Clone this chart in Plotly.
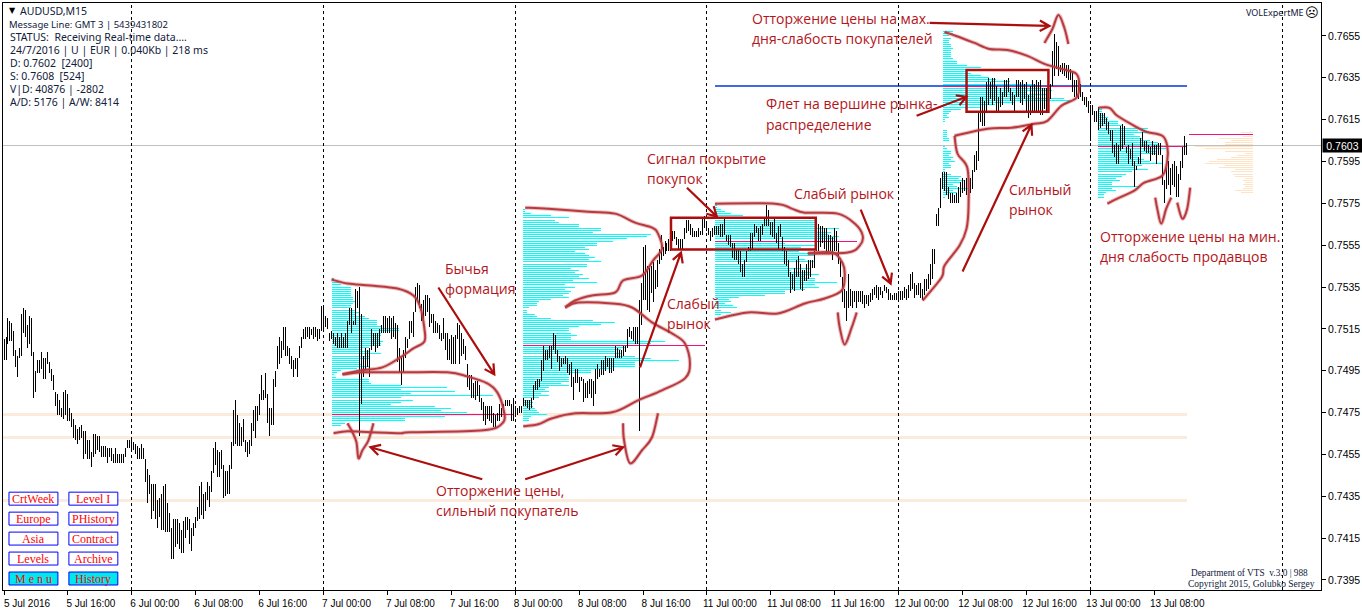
import plotly.graph_objects as go

# ---------------- data: (high, low) of each M15 bar, in 1/10000 of a price point ----------------
jul05_hl = [(7510,7500),(7511,7500),(7520,7508),(7519,7509),(7518,7509),(7514,7502),(7505,7497),(7502,7492),(7506,7501),(7522,7502),
(7525,7513),(7524,7511),(7517,7506),(7521,7508),(7520,7502),(7504,7482),(7495,7485),(7500,7494),(7500,7494),(7504,7496),
(7501,7491),(7501,7491),(7504,7498),(7499,7494),(7496,7490),(7493,7486),(7485,7478),(7484,7474),(7481,7474),(7477,7473),
(7485,7472),(7486,7474),(7484,7471),(7477,7471),(7475,7468),(7472,7463),(7469,7462),(7467,7460),(7468,7462),(7469,7463),
(7466,7453),(7466,7455),(7462,7453),(7462,7453),(7456,7449),(7465,7454),(7465,7455),(7464,7457),(7464,7456),(7459,7454),
(7459,7454),(7459,7454),(7458,7451),(7458,7454),(7458,7452),(7455,7451),(7458,7451),(7455,7451),(7455,7451),(7455,7451),
(7455,7451),(7458,7454),(7462,7458),(7462,7458)]
jul06_hl = [(7462,7457),(7461,7457),(7460,7455),(7459,7453),(7458,7453),(7460,7453),(7458,7453),(7453,7442),(7448,7432),(7445,7436),
(7441,7424),(7441,7428),(7441,7424),(7433,7420),(7434,7425),(7436,7419),(7440,7419),(7441,7418),(7432,7418),(7427,7418),
(7420,7405),(7424,7405),(7424,7411),(7424,7412),(7422,7410),(7419,7408),(7423,7408),(7425,7415),(7425,7419),(7424,7412),
(7420,7409),(7422,7416),(7425,7420),(7430,7423),(7440,7424),(7442,7426),(7436,7424),(7437,7428),(7442,7433),(7440,7430),
(7447,7437),(7458,7446),(7461,7450),(7457,7444),(7456,7444),(7457,7448),(7450,7434),(7447,7435),(7447,7436),(7450,7436),
(7461,7448),(7476,7459),(7481,7460),(7474,7459),(7470,7459),(7468,7459),(7472,7461),(7462,7456),(7461,7454),(7462,7455),
(7470,7459),(7476,7466),(7478,7463),(7478,7471),(7484,7474),(7493,7481),(7486,7481),(7494,7482),(7484,7470),(7477,7464),
(7477,7469),(7491,7469),(7495,7487),(7507,7496),(7511,7498),(7509,7501),(7516,7505),(7516,7502),(7507,7502),(7506,7498),
(7502,7496),(7500,7492),(7501,7496),(7501,7492),(7507,7501),(7511,7506),(7515,7510),(7516,7510),(7516,7511),(7516,7510),
(7515,7512),(7516,7510),(7516,7511),(7515,7509),(7515,7510),(7526,7514)]
jul07_hl = [(7525,7514),(7521,7516),(7520,7515),(7513,7509),(7514,7510),(7513,7508),(7511,7507),(7513,7506),(7511,7506),(7513,7506),
(7511,7506),(7513,7506),(7519,7506),(7525,7517),(7525,7513),(7519,7517),(7534,7517),(7533,7525),(7535,7464),(7522,7479),
(7502,7492),(7506,7496),(7505,7497),(7506,7492),(7515,7505),(7513,7507),(7513,7504),(7513,7506),(7515,7507),(7517,7513),
(7521,7513),(7521,7513),(7520,7513),(7521,7513),(7520,7510),(7521,7511),(7518,7510),(7517,7499),(7506,7494),(7502,7488),
(7505,7494),(7511,7501),(7510,7506),(7519,7510),(7519,7513),(7523,7511),(7535,7523),(7537,7528),(7536,7525),(7527,7519),
(7529,7517),(7531,7521),(7531,7523),(7530,7516),(7522,7518),(7522,7513),(7519,7513),(7518,7513),(7517,7510),(7513,7509),
(7520,7510),(7513,7505),(7513,7500),(7510,7500),(7512,7498),(7511,7498),(7512,7498),(7518,7510),(7517,7498),(7513,7502),
(7510,7503),(7507,7500),(7498,7487),(7493,7486),(7493,7482),(7489,7482),(7490,7481),(7490,7483),(7488,7480),(7482,7476),
(7480,7471),(7478,7469),(7478,7472),(7478,7471),(7478,7470),(7475,7468),(7474,7468),(7475,7471),(7479,7471),(7477,7473),
(7479,7475),(7481,7478),(7481,7478),(7481,7478),(7479,7471),(7482,7471)]
jul08_hl = [(7478,7473),(7477,7474),(7478,7475),(7478,7475),(7482,7478),(7481,7478),(7481,7477),(7481,7476),(7482,7477),(7488,7481),
(7490,7486),(7491,7486),(7491,7487),(7500,7490),(7507,7495),(7505,7500),(7505,7500),(7507,7501),(7507,7496),(7513,7505),
(7512,7503),(7505,7499),(7502,7495),(7501,7497),(7501,7498),(7502,7498),(7501,7494),(7498,7493),(7499,7487),(7492,7481),
(7496,7489),(7496,7489),(7492,7485),(7492,7490),(7491,7480),(7489,7482),(7490,7482),(7491,7484),(7491,7482),(7490,7478),
(7496,7484),(7498,7491),(7496,7492),(7500,7493),(7500,7493),(7502,7495),(7501,7497),(7501,7494),(7501,7494),(7501,7495),
(7507,7501),(7506,7501),(7505,7501),(7505,7501),(7507,7502),(7507,7504),(7515,7506),(7516,7511),(7514,7510),(7516,7509),
(7516,7508),(7516,7508),(7529,7466),(7537,7517),(7554,7529),(7555,7529),(7545,7524),(7544,7523),(7545,7532),(7547,7528),
(7543,7534),(7548,7535),(7553,7546),(7560,7548),(7554,7550),(7557,7551),(7556,7552),(7558,7552),(7558,7552),(7562,7557),
(7562,7558),(7559,7555),(7558,7553),(7558,7553),(7558,7553),(7563,7558),(7567,7561),(7567,7562),(7565,7560),(7563,7559),
(7562,7559),(7562,7559),(7563,7559),(7562,7560),(7568,7560),(7569,7563)]
jul11_hl = [(7566,7562),(7563,7560),(7562,7557),(7563,7559),(7564,7560),(7564,7560),(7564,7560),(7565,7559),(7565,7559),(7568,7560),
(7560,7557),(7560,7555),(7560,7554),(7556,7549),(7556,7548),(7553,7548),(7553,7546),(7552,7542),(7546,7540),(7548,7540),
(7552,7547),(7554,7552),(7561,7552),(7561,7553),(7565,7559),(7564,7561),(7563,7557),(7564,7557),(7565,7560),(7568,7564),
(7574,7564),(7572,7564),(7566,7560),(7566,7559),(7568,7558),(7561,7556),(7564,7553),(7565,7559),(7559,7552),(7554,7546),
(7552,7545),(7548,7540),(7542,7532),(7541,7534),(7544,7533),(7548,7540),(7550,7540),(7546,7534),(7543,7533),(7543,7538),
(7546,7538),(7548,7539),(7548,7540),(7548,7544),(7552,7544),(7564,7552),(7565,7552),(7564,7554),(7564,7556),(7563,7553),
(7563,7552),(7560,7552),(7560,7552),(7559,7548),(7563,7552),(7562,7552),(7556,7546),(7549,7540),(7540,7528),(7534,7525),
(7533,7519),(7541,7525),(7534,7526),(7533,7525),(7533,7528),(7533,7525),(7533,7528),(7533,7528),(7533,7527),(7531,7525),
(7531,7527),(7531,7526),(7532,7528),(7534,7529),(7535,7531),(7536,7530),(7535,7529),(7535,7531),(7533,7530),(7536,7533),
(7535,7532),(7534,7529),(7532,7529),(7531,7529),(7532,7529),(7532,7529)]
jul12_hl = [(7533,7529),(7533,7529),(7533,7529),(7535,7530),(7534,7529),(7536,7530),(7541,7533),(7542,7534),(7537,7530),(7536,7531),
(7537,7531),(7537,7530),(7534,7529),(7539,7531),(7539,7533),(7541,7534),(7546,7536),(7553,7539),(7553,7546),(7570,7564),
(7573,7564),(7587,7573),(7590,7582),(7590,7581),(7590,7579),(7583,7577),(7580,7575),(7580,7575),(7579,7575),(7580,7575),
(7583,7575),(7585,7578),(7587,7580),(7586,7581),(7587,7579),(7587,7579),(7587,7580),(7591,7582),(7598,7590),(7600,7591),
(7618,7595),(7626,7614),(7626,7612),(7624,7612),(7633,7618),(7635,7622),(7633,7625),(7635,7622),(7635,7624),(7631,7619),
(7626,7618),(7630,7621),(7628,7622),(7634,7626),(7634,7626),(7635,7628),(7630,7624),(7628,7622),(7627,7618),(7634,7626),
(7634,7626),(7633,7623),(7634,7622),(7632,7625),(7633,7619),(7627,7616),(7631,7617),(7634,7619),(7632,7618),(7634,7619),
(7633,7618),(7634,7617),(7630,7617),(7630,7620),(7630,7619),(7633,7619),(7632,7625),(7648,7631),(7656,7636),(7652,7639),
(7650,7636),(7641,7638),(7642,7637),(7642,7636),(7641,7635),(7641,7634),(7639,7634),(7638,7628),(7634,7626),(7634,7626),
(7634,7625),(7632,7626),(7628,7624),(7626,7622),(7626,7621),(7624,7618)]
jul13_hl = [(7622,7605),(7622,7617),(7619,7614),(7619,7614),(7621,7610),(7618,7611),(7618,7612),(7618,7613),(7616,7610),(7614,7608),
(7610,7605),(7610,7599),(7603,7597),(7604,7594),(7603,7594),(7612,7600),(7613,7601),(7612,7603),(7602,7599),(7603,7594),
(7601,7596),(7604,7593),(7595,7583),(7593,7591),(7597,7594),(7606,7594),(7609,7602),(7605,7600),(7605,7599),(7603,7599),
(7602,7595),(7605,7598),(7603,7598),(7603,7594),(7604,7598),(7604,7598),(7598,7584),(7586,7575),(7594,7582),(7595,7584),
(7592,7579),(7594,7584),(7595,7583),(7593,7578),(7589,7578),(7595,7586),(7602,7592),(7607,7598),(7604,7598)]

tick_labels = ["5 Jul 2016","5 Jul 16:00","6 Jul 00:00","6 Jul 08:00","6 Jul 16:00","7 Jul 00:00","7 Jul 08:00","7 Jul 16:00",
"8 Jul 00:00","8 Jul 08:00","8 Jul 16:00","11 Jul 00:00","11 Jul 08:00","11 Jul 16:00","12 Jul 00:00","12 Jul 08:00",
"12 Jul 16:00","13 Jul 00:00","13 Jul 08:00"]
price_ticks = [0.7395,0.7415,0.7435,0.7455,0.7475,0.7495,0.7515,0.7535,0.7555,0.7575,0.7595,0.7615,0.7635,0.7655]
day_separators = [64,160,256,352,448,544,640]
support_levels = [0.7474,0.7463,0.7433]
blue_level = 0.7631
current_price = 0.76028

# volume profiles: length (in bars) of each one-point price level, top level first
vp_jul07 = [1,1,4,5,10,10,10,10,10,11,11,12,11,10,10,12,14,12,17,19,23,23,23,25,34,34,25,25,24,24,26,25,25,19,15,19,25,19,19,14,14,15,19,13,5,3,1,2,19,19,20,35,58,35,62,40,81,35,41,35,30,52,60,55,68,85,57,37,37,7,5]
vp_jul08 = [1,1,4,14,23,16,18,28,28,39,39,35,64,62,52,45,37,37,31,33,26,31,33,36,33,39,32,32,24,28,26,30,28,33,25,37,21,26,21,24,23,20,23,14,8,7,7,3,2,2,6,7,14,35,46,39,28,23,23,24,27,24,24,71,64,49,51,49,46,49,56,64,78,56,56,56,44,34,34,23,23,23,23,19,23,13,11,13,9,13,8,4,5,4,5,6,7,8,12,4,3,3]
vp_jul11 = [1,1,3,5,8,14,23,50,50,50,50,62,50,58,57,62,60,62,35,50,43,42,42,52,50,42,45,50,37,37,48,38,48,52,45,50,50,61,50,52,45,35,35,25,12,7,8,5,9,11,3,8,3]
vp_jul12 = [5,5,3,4,3,3,4,4,5,4,4,4,4,5,7,7,12,19,12,12,14,19,23,27,34,46,61,54,55,42,52,46,61,64,36,26,19,9,4,3,2,3,1,1,0,0,0,2,2,2,2,3,3,0,0,1,2,4,4,3,5,4,6,3,4,4,1,1,4,9,8,11,9,5,7,13,5,7,3,1]
vp_jul13 = [2,2,2,3,5,5,10,10,12,25,20,25,18,21,22,26,30,30,34,34,29,29,21,20,23,26,32,22,18,25,17,14,12,9,11,7,7,21,7,9,4,3,3]
vp_right = [6,6,5,17,11,14,14,29,24,14,4,8,11,18,22,24,14,17,9,11,10,9,4,5,4,5,4,5,9,6]

# ---------------- layout constants ----------------
W, H = 1362, 612
L, R, T, B = 2, 40, 2, 22
PLOT_W, PLOT_H = W - L - R, H - T - B
PX_PER_PRICE = 20960.0
Y_TOP = 0.7655 + (35 - T) / PX_PER_PRICE
Y_BOT = Y_TOP - PLOT_H / PX_PER_PRICE
LEVEL_STEP = 0.0001
X0 = -0.5
X1 = X0 + PLOT_W / 2


def px(x):
    return (x - L) / PLOT_W


def py(y):
    return 1 - (y - T) / PLOT_H


RED_TEXT = "#B3151B"
STROKE = "#B93A3E"
ARROW = "#AC0D0D"
CYAN = "#00FFFF"
MAGENTA = "#F2127F"
PEACH = "#FBEBDC"

hl = jul05_hl + jul06_hl + jul07_hl + jul08_hl + jul11_hl + jul12_hl + jul13_hl


def segs(rows):
    xs, ys = [], []
    for a, b, c, d in rows:
        xs += [a, b, None]
        ys += [c, d, None]
    return xs, ys


fig = go.Figure()


def add_lines(rows, color, width=1, dash=None, name=""):
    xs, ys = segs(rows)
    fig.add_trace(go.Scatter(x=xs, y=ys, mode="lines", name=name, hoverinfo="skip", showlegend=False,
                             connectgaps=False, line=dict(color=color, width=width, dash=dash)))


# support lines
add_lines([(X0, 592.5, p, p) for p in support_levels], PEACH, 3, name="levels")
# volume profiles


def profile(vals, start, top, sign=1):
    return [(start, start + sign * v, top - k * LEVEL_STEP, top - k * LEVEL_STEP) for k, v in enumerate(vals) if v > 0]


add_lines(profile(vp_jul07, 164, 0.7539), CYAN, name="vp 7 Jul")
add_lines(profile(vp_jul08, 260, 0.7572), CYAN, name="vp 8 Jul")
add_lines(profile(vp_jul11, 356, 0.7574), CYAN, name="vp 11 Jul")
add_lines(profile(vp_jul12, 470, 0.7657), CYAN, name="vp 12 Jul")
add_lines(profile(vp_jul13, 548, 0.7620), CYAN, name="vp 13 Jul")
add_lines(profile(vp_right, 625.5, 0.7609, -1), "#FFE3C2", name="vp current")
# price line
add_lines([(X0, X1, current_price, current_price)], "#C0C0C0", name="price")
# blue line
add_lines([(356, 592.5, blue_level, blue_level)], "#4169E1", 2, name="blue")
# POC lines
add_lines([(164, 255, 0.7474, 0.7474), (260, 351, 0.7507, 0.7507), (356, 427, 0.7557, 0.7557),
           (470, 537, blue_level, blue_level), (548, 592, 0.7602, 0.7602), (593.5, 625.5, 0.7608, 0.7608)],
          MAGENTA, name="poc")
# day separators
add_lines([(d, d, Y_BOT, Y_TOP) for d in day_separators], "#000000", 1, "3px,3px", name="days")
# bars
add_lines([(i, i, h / 1e4, l / 1e4) for i, (h, l) in enumerate(hl)], "#000000", 1, name="AUDUSD,M15")

# ---------------- drawn annotations ----------------
shapes = []
annotations = []


def curve_path(pts):
    d = "M %.5f,%.5f" % (px(pts[0][0]), py(pts[0][1]))
    n = len(pts)
    for i in range(n - 1):
        p0 = pts[max(i - 1, 0)]
        p1 = pts[i]
        p2 = pts[i + 1]
        p3 = pts[min(i + 2, n - 1)]
        c1 = (p1[0] + (p2[0] - p0[0]) / 6, p1[1] + (p2[1] - p0[1]) / 6)
        c2 = (p2[0] - (p3[0] - p1[0]) / 6, p2[1] - (p3[1] - p1[1]) / 6)
        d += " C %.5f,%.5f %.5f,%.5f %.5f,%.5f" % (px(c1[0]), py(c1[1]), px(c2[0]), py(c2[1]), px(p2[0]), py(p2[1]))
    return d


def stroke(pts):
    d = curve_path(pts)
    shapes.append(dict(type="path", xref="paper", yref="paper", path=d, opacity=0.3,
                       line=dict(color=STROKE, width=4)))
    shapes.append(dict(type="path", xref="paper", yref="paper", path=d,
                       line=dict(color=STROKE, width=2)))


def arrow(x0, y0, x1, y1, head=11):
    import math
    a = math.atan2(y1 - y0, x1 - x0)
    w1 = (x1 - head * math.cos(a - 0.5), y1 - head * math.sin(a - 0.5))
    w2 = (x1 - head * math.cos(a + 0.5), y1 - head * math.sin(a + 0.5))
    d = "M %.5f,%.5f L %.5f,%.5f M %.5f,%.5f L %.5f,%.5f L %.5f,%.5f" % (
        px(x0), py(y0), px(x1), py(y1), px(w1[0]), py(w1[1]), px(x1), py(y1), px(w2[0]), py(w2[1]))
    shapes.append(dict(type="path", xref="paper", yref="paper", path=d, line=dict(color=ARROW, width=2.2)))


def box(x0, y0, x1, y1, line, fill=None, width=1):
    shapes.append(dict(type="rect", xref="paper", yref="paper", x0=px(x0), x1=px(x1), y0=py(y0), y1=py(y1),
                       line=dict(color=line, width=width), fillcolor=fill or "rgba(0,0,0,0)"))


def text(x, y, s, size=14, color=RED_TEXT, family="Open Sans", anchor="left", **kw):
    annotations.append(dict(x=px(x), y=py(y), xref="paper", yref="paper", text=s, showarrow=False,
                            xanchor=anchor, yanchor="middle", align=anchor,
                            font=dict(size=size, color=color, family=family), borderpad=0, **kw))


# loops
stroke([(331,279),(347,283),(370,285),(397,288),(413,295),(420,307),(424,328),(424,341),(413,348),(400,357),(382,367),(360,370),(342,374)])
stroke([(342,374),(363,372),(403,372),(447,372),(467,376),(487,383),(497,392),(503,408),(503,422),(483,430),(410,432),(400,433),(370,432),(347,431),(333,433)])
stroke([(347,423),(352,432),(356,442),(358,458),(362,450),(368,440),(373,423)])
stroke([(525,207),(548,208),(588,211),(615,213),(635,222),(652,227),(658,233),(662,248),(653,260),(642,275),(623,280),(615,292),(592,295),(575,300),(565,307)])
stroke([(565,307),(578,302),(612,303),(632,307),(652,322),(672,333),(685,343),(690,363),(685,378),(662,390),(638,400),(612,412),(575,413),(552,418),(538,424),(523,426)])
stroke([(623,423),(624,440),(630,463),(642,450),(652,437),(658,413)])
stroke([(715,203),(775,203),(792,208),(805,212),(838,213),(855,223),(863,235),(860,245),(848,252),(808,253)])
stroke([(808,253),(833,252),(843,263),(845,275),(842,290),(825,298),(805,303),(778,313),(748,312),(715,319)])
stroke([(838,312),(840,327),(845,344),(852,327),(857,312)])
stroke([(945,31),(962,37),(975,42),(990,48),(1008,49),(1028,55),(1045,63),(1062,68),(1077,73),(1080,85),(1077,97),(1062,105),(1048,120),(1035,123),(1012,127),(988,128),(955,135)])
stroke([(955,135),(958,153),(968,168),(969,205),(967,228),(960,245),(945,265),(942,277),(923,300)])
stroke([(1045,42),(1053,28),(1059,14),(1065,27),(1069,43)])
stroke([(1099,107),(1110,107),(1118,115),(1135,125),(1147,131),(1163,135),(1168,145),(1168,160),(1163,175),(1145,182),(1135,190),(1118,198),(1108,203)])
stroke([(1156,197),(1158,208),(1162,223),(1167,208),(1172,197)])
stroke([(1178,202),(1183,218),(1188,208),(1191,187)])

# boxes
box(671, 217, 816, 249, ARROW, width=2.5)
box(967, 69, 1049, 111, ARROW, width=2.5)

# arrows
arrow(438, 287, 494, 374)
arrow(482, 479, 370, 447)
arrow(525, 479, 623, 447)
arrow(640, 367, 681, 252)
arrow(687, 187, 717, 216)
arrow(861, 209, 891, 283)
arrow(963, 271, 1032, 124)
arrow(917, 115, 967, 96)
arrow(930, 22, 1050, 25)

# commentary
for x, y, s in [
    (444, 268, "Бычья"), (444, 288, "формация"),
    (435, 490, "Отторжение цены,"), (435, 510, "сильный покупатель"),
    (666, 303, "Слабый"), (666, 323, "рынок"),
    (646, 158, "Сигнал покрытие"), (646, 178, "покупок"),
    (793, 193, "Слабый рынок"),
    (751, 18, "Отторжение цены на мах."), (751, 38, "дня-слабость покупателей"),
    (765, 103, "Флет на вершине рынка-"), (765, 124, "распределение"),
    (1009, 189, "Сильный"), (1009, 209, "рынок"),
    (1100, 236, "Отторжение цены на мин."), (1100, 256, "дня слабость продавцов"),
]:
    text(x, y, s)

# header block
HEAD = "#10203A"
text(7, 10, "▼", 8, "#000000", "DejaVu Sans")
text(18, 10, "AUDUSD,M15", 10.5, HEAD, "Noto Sans")
text(7, 24, "Message Line: GMT 3 | 5439431802", 9.5, HEAD, "Noto Sans")
for y, s in [(36, "STATUS:  Receiving Real-time data...."), (49, "24/7/2016 | U | EUR | 0.040Kb | 218 ms"),
             (62, "D: 0.7602  [2400]"), (75, "S: 0.7608  [524]"), (88, "V|D: 40876 | -2802"),
             (101, "A/D: 5176 | A/W: 8414")]:
    text(8, y, s, 10.5, HEAD, "Noto Sans")

text(1246, 12, "VOLExpertME", 9, HEAD, "Noto Sans")
text(1305, 12, "☹", 13, "#000000", "DejaVu Sans")
text(1250, 573, "Department of VTS  v.3.0 | 988", 9.3, HEAD, "Liberation Serif", anchor="center")
text(1252, 584, "Copyright 2015, Golubko Sergey", 9.5, HEAD, "Liberation Serif", anchor="center")

# menu buttons
button_rows = [(492, 505, "CrtWeek", "Level I", "#FFFFFF"), (512, 525, "Europe", "PHistory", "#FFFFFF"),
               (532, 545, "Asia", "Contract", "#FFFFFF"), (552, 565, "Levels", "Archive", "#FFFFFF"),
               (572, 585, "M e n u", "History", "#00E8EE")]
for y0, y1, a, b, fill in button_rows:
    for x0, x1, s in [(8, 57, a), (68, 117, b)]:
        box(x0, y0, x1, y1, "#0000FF", fill)
        text((x0 + x1) / 2, (y0 + y1) / 2, s, 12, "#FF0000", "Liberation Serif", anchor="center")

# current price tag
annotations.append(dict(x=px(1323), y=py(144.5), xref="paper", yref="paper", text="0.7603", showarrow=False,
                        xanchor="left", yanchor="middle", width=39, height=13, align="center", bgcolor="#000000",
                        font=dict(size=10.5, color="#FFFFFF", family="Liberation Sans"), borderpad=0))

fig.update_layout(
    width=W, height=H, margin=dict(l=L, r=R, t=T, b=B, pad=0), paper_bgcolor="#FFFFFF", plot_bgcolor="#FFFFFF",
    showlegend=False, hovermode=False, shapes=shapes, annotations=annotations,
    xaxis=dict(range=[X0, X1], tickmode="array", tickvals=[32 * k for k in range(len(tick_labels))], ticktext=tick_labels,
               ticks="outside", ticklen=4, tickwidth=1, tickcolor="#000000", showgrid=False, zeroline=False,
               showline=True, linecolor="#000000", linewidth=1, mirror=True, ticklabelshift=23,
               tickfont=dict(size=10, color="#000000", family="Liberation Sans")),
    yaxis=dict(range=[Y_BOT, Y_TOP], side="right", tickmode="array", tickvals=price_ticks,
               ticktext=["%.4f" % p for p in price_ticks], ticks="outside", ticklen=4, tickwidth=1, tickcolor="#000000",
               showgrid=False, zeroline=False, showline=True, linecolor="#000000", linewidth=1, mirror=True,
               tickfont=dict(size=10.5, color="#000000", family="Liberation Sans")),
)

post = ("document.body.style.margin='0';"
        "document.querySelectorAll('.scatterlayer path.js-line').forEach(function(p){p.style.shapeRendering='crispEdges';});")
fig.write_html("out.html", post_script=post, config={"displayModeBar": False})
